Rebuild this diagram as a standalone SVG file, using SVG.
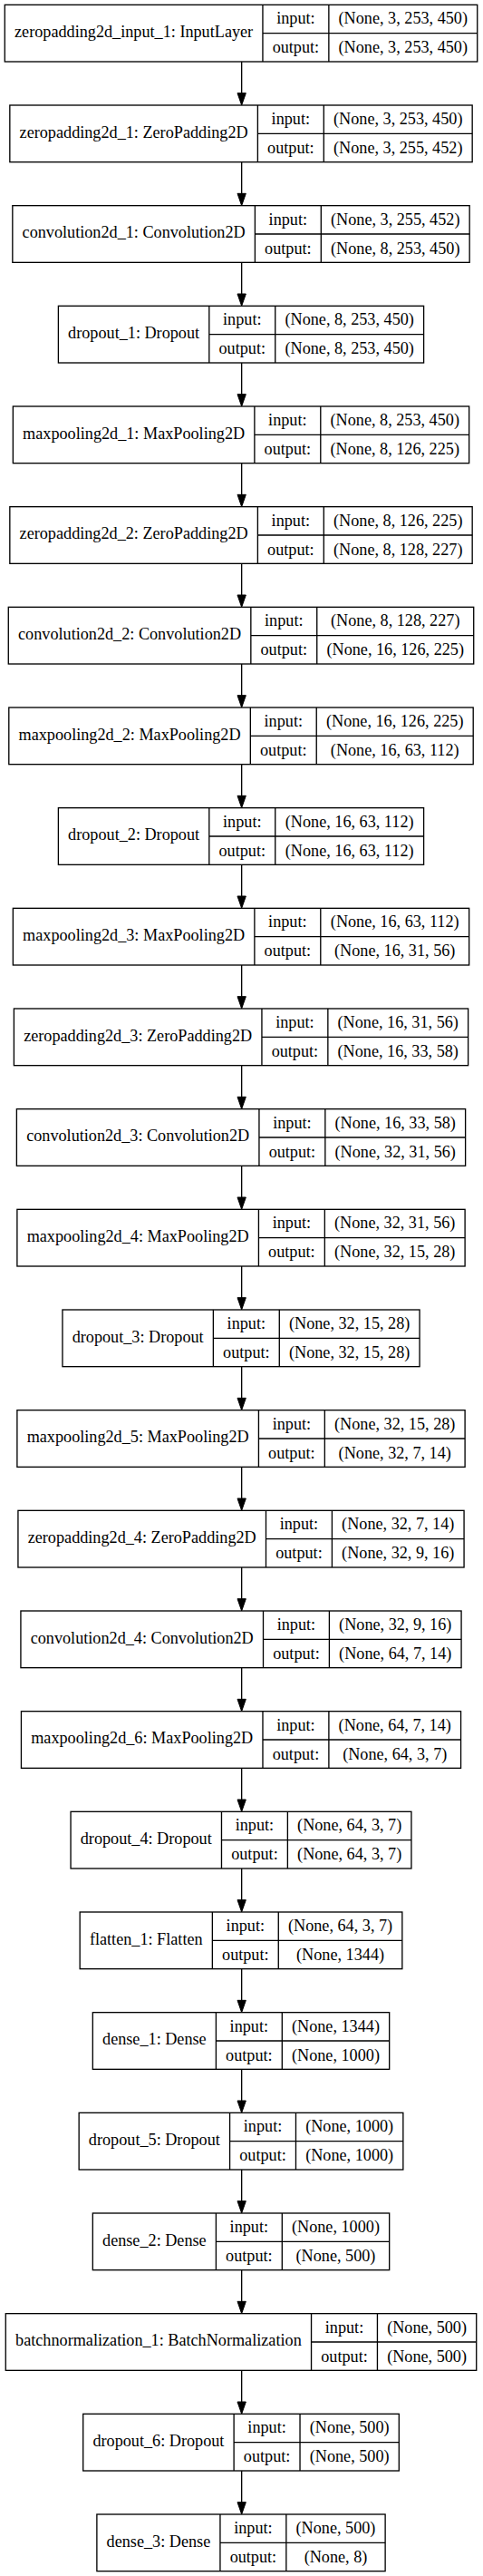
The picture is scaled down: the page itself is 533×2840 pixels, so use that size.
<svg xmlns="http://www.w3.org/2000/svg" width="533" height="2840" viewBox="0 0 533 2840">
<style>
.box{fill:#fff;stroke:#000;stroke-width:1.33}
.dv{fill:none;stroke:#000;stroke-width:1.33}
.e{fill:none;stroke:#000;stroke-width:1.33;marker-end:url(#ah)}
text{font-family:"Liberation Serif","Times New Roman",serif;font-size:18.2px;text-anchor:middle;fill:#000}
</style>
<defs>
<marker id="ah" markerUnits="userSpaceOnUse" markerWidth="14" markerHeight="10" refX="11.33" refY="4.67" orient="auto" overflow="visible">
<path d="M0,0 L13.33,4.67 L0,9.33 Z" fill="#000" stroke="#000" stroke-width="1"/>
</marker>
</defs>
<rect x="0" y="0" width="533" height="2840" fill="#fff"/>
<g id="connectors">
<path class="e" d="M266.67,68V114"/>
<path class="e" d="M266.67,178.67V224.67"/>
<path class="e" d="M266.67,289.33V335.33"/>
<path class="e" d="M266.67,400V446"/>
<path class="e" d="M266.67,510.67V556.67"/>
<path class="e" d="M266.67,621.33V667.33"/>
<path class="e" d="M266.67,732V778"/>
<path class="e" d="M266.67,842.67V888.67"/>
<path class="e" d="M266.67,953.33V999.33"/>
<path class="e" d="M266.67,1064V1110"/>
<path class="e" d="M266.67,1174.67V1220.67"/>
<path class="e" d="M266.67,1285.33V1331.33"/>
<path class="e" d="M266.67,1396V1442"/>
<path class="e" d="M266.67,1506.67V1552.67"/>
<path class="e" d="M266.67,1617.33V1663.33"/>
<path class="e" d="M266.67,1728V1774"/>
<path class="e" d="M266.67,1838.67V1884.67"/>
<path class="e" d="M266.67,1949.33V1995.33"/>
<path class="e" d="M266.67,2060V2106"/>
<path class="e" d="M266.67,2170.67V2216.67"/>
<path class="e" d="M266.67,2281.33V2327.33"/>
<path class="e" d="M266.67,2392V2438"/>
<path class="e" d="M266.67,2502.67V2548.67"/>
<path class="e" d="M266.67,2613.33V2659.33"/>
<path class="e" d="M266.67,2724V2770"/>
</g>
<g id="n1" transform="translate(0,5.33)">
<rect class="box" x="5.27" y="0" width="521.46" height="62.67"/>
<path class="dv" d="M289.95,0V62.67M362.86,0V62.67M289.95,31.33H526.73"/>
<text x="147.61" y="35.5">zeropadding2d_input_1: InputLayer</text>
<text x="326.41" y="21">input:</text><text x="326.41" y="53">output:</text>
<text x="444.80" y="21">(None, 3, 253, 450)</text><text x="444.80" y="53">(None, 3, 253, 450)</text>
</g>
<g id="n2" transform="translate(0,116)">
<rect class="box" x="10.83" y="0" width="510.34" height="62.67"/>
<path class="dv" d="M284.39,0V62.67M357.30,0V62.67M284.39,31.33H521.17"/>
<text x="147.61" y="35.5">zeropadding2d_1: ZeroPadding2D</text>
<text x="320.85" y="21">input:</text><text x="320.85" y="53">output:</text>
<text x="439.24" y="21">(None, 3, 253, 450)</text><text x="439.24" y="53">(None, 3, 255, 452)</text>
</g>
<g id="n3" transform="translate(0,226.67)">
<rect class="box" x="13.83" y="0" width="504.34" height="62.67"/>
<path class="dv" d="M281.39,0V62.67M354.30,0V62.67M281.39,31.33H518.17"/>
<text x="147.61" y="35.5">convolution2d_1: Convolution2D</text>
<text x="317.85" y="21">input:</text><text x="317.85" y="53">output:</text>
<text x="436.24" y="21">(None, 3, 255, 452)</text><text x="436.24" y="53">(None, 8, 253, 450)</text>
</g>
<g id="n4" transform="translate(0,337.33)">
<rect class="box" x="64.40" y="0" width="403.20" height="62.67"/>
<path class="dv" d="M230.82,0V62.67M303.73,0V62.67M230.82,31.33H467.60"/>
<text x="147.61" y="35.5">dropout_1: Dropout</text>
<text x="267.28" y="21">input:</text><text x="267.28" y="53">output:</text>
<text x="385.67" y="21">(None, 8, 253, 450)</text><text x="385.67" y="53">(None, 8, 253, 450)</text>
</g>
<g id="n5" transform="translate(0,448)">
<rect class="box" x="14.34" y="0" width="503.32" height="62.67"/>
<path class="dv" d="M280.88,0V62.67M353.79,0V62.67M280.88,31.33H517.66"/>
<text x="147.61" y="35.5">maxpooling2d_1: MaxPooling2D</text>
<text x="317.34" y="21">input:</text><text x="317.34" y="53">output:</text>
<text x="435.73" y="21">(None, 8, 253, 450)</text><text x="435.73" y="53">(None, 8, 126, 225)</text>
</g>
<g id="n6" transform="translate(0,558.67)">
<rect class="box" x="10.83" y="0" width="510.34" height="62.67"/>
<path class="dv" d="M284.39,0V62.67M357.30,0V62.67M284.39,31.33H521.17"/>
<text x="147.61" y="35.5">zeropadding2d_2: ZeroPadding2D</text>
<text x="320.85" y="21">input:</text><text x="320.85" y="53">output:</text>
<text x="439.24" y="21">(None, 8, 126, 225)</text><text x="439.24" y="53">(None, 8, 128, 227)</text>
</g>
<g id="n7" transform="translate(0,669.33)">
<rect class="box" x="9.28" y="0" width="513.44" height="62.67"/>
<path class="dv" d="M276.84,0V62.67M349.75,0V62.67M276.84,31.33H522.72"/>
<text x="143.06" y="35.5">convolution2d_2: Convolution2D</text>
<text x="313.30" y="21">input:</text><text x="313.30" y="53">output:</text>
<text x="436.24" y="21">(None, 8, 128, 227)</text><text x="436.24" y="53">(None, 16, 126, 225)</text>
</g>
<g id="n8" transform="translate(0,780)">
<rect class="box" x="9.79" y="0" width="512.42" height="62.67"/>
<path class="dv" d="M276.33,0V62.67M349.24,0V62.67M276.33,31.33H522.21"/>
<text x="143.06" y="35.5">maxpooling2d_2: MaxPooling2D</text>
<text x="312.79" y="21">input:</text><text x="312.79" y="53">output:</text>
<text x="435.73" y="21">(None, 16, 126, 225)</text><text x="435.73" y="53">(None, 16, 63, 112)</text>
</g>
<g id="n9" transform="translate(0,890.67)">
<rect class="box" x="64.40" y="0" width="403.20" height="62.67"/>
<path class="dv" d="M230.82,0V62.67M303.73,0V62.67M230.82,31.33H467.60"/>
<text x="147.61" y="35.5">dropout_2: Dropout</text>
<text x="267.28" y="21">input:</text><text x="267.28" y="53">output:</text>
<text x="385.67" y="21">(None, 16, 63, 112)</text><text x="385.67" y="53">(None, 16, 63, 112)</text>
</g>
<g id="n10" transform="translate(0,1001.33)">
<rect class="box" x="14.34" y="0" width="503.32" height="62.67"/>
<path class="dv" d="M280.88,0V62.67M353.79,0V62.67M280.88,31.33H517.66"/>
<text x="147.61" y="35.5">maxpooling2d_3: MaxPooling2D</text>
<text x="317.34" y="21">input:</text><text x="317.34" y="53">output:</text>
<text x="435.73" y="21">(None, 16, 63, 112)</text><text x="435.73" y="53">(None, 16, 31, 56)</text>
</g>
<g id="n11" transform="translate(0,1112)">
<rect class="box" x="15.38" y="0" width="501.24" height="62.67"/>
<path class="dv" d="M288.94,0V62.67M361.85,0V62.67M288.94,31.33H516.62"/>
<text x="152.16" y="35.5">zeropadding2d_3: ZeroPadding2D</text>
<text x="325.40" y="21">input:</text><text x="325.40" y="53">output:</text>
<text x="439.24" y="21">(None, 16, 31, 56)</text><text x="439.24" y="53">(None, 16, 33, 58)</text>
</g>
<g id="n12" transform="translate(0,1222.67)">
<rect class="box" x="18.38" y="0" width="495.24" height="62.67"/>
<path class="dv" d="M285.94,0V62.67M358.85,0V62.67M285.94,31.33H513.62"/>
<text x="152.16" y="35.5">convolution2d_3: Convolution2D</text>
<text x="322.40" y="21">input:</text><text x="322.40" y="53">output:</text>
<text x="436.24" y="21">(None, 16, 33, 58)</text><text x="436.24" y="53">(None, 32, 31, 56)</text>
</g>
<g id="n13" transform="translate(0,1333.33)">
<rect class="box" x="18.89" y="0" width="494.22" height="62.67"/>
<path class="dv" d="M285.43,0V62.67M358.34,0V62.67M285.43,31.33H513.11"/>
<text x="152.16" y="35.5">maxpooling2d_4: MaxPooling2D</text>
<text x="321.89" y="21">input:</text><text x="321.89" y="53">output:</text>
<text x="435.73" y="21">(None, 32, 31, 56)</text><text x="435.73" y="53">(None, 32, 15, 28)</text>
</g>
<g id="n14" transform="translate(0,1444)">
<rect class="box" x="68.95" y="0" width="394.10" height="62.67"/>
<path class="dv" d="M235.37,0V62.67M308.28,0V62.67M235.37,31.33H463.05"/>
<text x="152.16" y="35.5">dropout_3: Dropout</text>
<text x="271.83" y="21">input:</text><text x="271.83" y="53">output:</text>
<text x="385.67" y="21">(None, 32, 15, 28)</text><text x="385.67" y="53">(None, 32, 15, 28)</text>
</g>
<g id="n15" transform="translate(0,1554.67)">
<rect class="box" x="18.89" y="0" width="494.22" height="62.67"/>
<path class="dv" d="M285.43,0V62.67M358.34,0V62.67M285.43,31.33H513.11"/>
<text x="152.16" y="35.5">maxpooling2d_5: MaxPooling2D</text>
<text x="321.89" y="21">input:</text><text x="321.89" y="53">output:</text>
<text x="435.73" y="21">(None, 32, 15, 28)</text><text x="435.73" y="53">(None, 32, 7, 14)</text>
</g>
<g id="n16" transform="translate(0,1665.33)">
<rect class="box" x="19.93" y="0" width="492.14" height="62.67"/>
<path class="dv" d="M293.49,0V62.67M366.40,0V62.67M293.49,31.33H512.07"/>
<text x="156.71" y="35.5">zeropadding2d_4: ZeroPadding2D</text>
<text x="329.95" y="21">input:</text><text x="329.95" y="53">output:</text>
<text x="439.24" y="21">(None, 32, 7, 14)</text><text x="439.24" y="53">(None, 32, 9, 16)</text>
</g>
<g id="n17" transform="translate(0,1776)">
<rect class="box" x="22.93" y="0" width="486.14" height="62.67"/>
<path class="dv" d="M290.49,0V62.67M363.40,0V62.67M290.49,31.33H509.07"/>
<text x="156.71" y="35.5">convolution2d_4: Convolution2D</text>
<text x="326.95" y="21">input:</text><text x="326.95" y="53">output:</text>
<text x="436.24" y="21">(None, 32, 9, 16)</text><text x="436.24" y="53">(None, 64, 7, 14)</text>
</g>
<g id="n18" transform="translate(0,1886.67)">
<rect class="box" x="23.44" y="0" width="485.12" height="62.67"/>
<path class="dv" d="M289.98,0V62.67M362.89,0V62.67M289.98,31.33H508.56"/>
<text x="156.71" y="35.5">maxpooling2d_6: MaxPooling2D</text>
<text x="326.44" y="21">input:</text><text x="326.44" y="53">output:</text>
<text x="435.73" y="21">(None, 64, 7, 14)</text><text x="435.73" y="53">(None, 64, 3, 7)</text>
</g>
<g id="n19" transform="translate(0,1997.33)">
<rect class="box" x="78.05" y="0" width="375.90" height="62.67"/>
<path class="dv" d="M244.47,0V62.67M317.38,0V62.67M244.47,31.33H453.95"/>
<text x="161.26" y="35.5">dropout_4: Dropout</text>
<text x="280.93" y="21">input:</text><text x="280.93" y="53">output:</text>
<text x="385.67" y="21">(None, 64, 3, 7)</text><text x="385.67" y="53">(None, 64, 3, 7)</text>
</g>
<g id="n20" transform="translate(0,2108)">
<rect class="box" x="88.16" y="0" width="355.68" height="62.67"/>
<path class="dv" d="M234.36,0V62.67M307.27,0V62.67M234.36,31.33H443.84"/>
<text x="161.26" y="35.5">flatten_1: Flatten</text>
<text x="270.82" y="21">input:</text><text x="270.82" y="53">output:</text>
<text x="375.56" y="21">(None, 64, 3, 7)</text><text x="375.56" y="53">(None, 1344)</text>
</g>
<g id="n21" transform="translate(0,2218.67)">
<rect class="box" x="102.33" y="0" width="327.34" height="62.67"/>
<path class="dv" d="M238.39,0V62.67M311.30,0V62.67M238.39,31.33H429.67"/>
<text x="170.36" y="35.5">dense_1: Dense</text>
<text x="274.85" y="21">input:</text><text x="274.85" y="53">output:</text>
<text x="370.49" y="21">(None, 1344)</text><text x="370.49" y="53">(None, 1000)</text>
</g>
<g id="n22" transform="translate(0,2329.33)">
<rect class="box" x="87.15" y="0" width="357.70" height="62.67"/>
<path class="dv" d="M253.57,0V62.67M326.48,0V62.67M253.57,31.33H444.85"/>
<text x="170.36" y="35.5">dropout_5: Dropout</text>
<text x="290.03" y="21">input:</text><text x="290.03" y="53">output:</text>
<text x="385.67" y="21">(None, 1000)</text><text x="385.67" y="53">(None, 1000)</text>
</g>
<g id="n23" transform="translate(0,2440)">
<rect class="box" x="102.33" y="0" width="327.34" height="62.67"/>
<path class="dv" d="M238.39,0V62.67M311.30,0V62.67M238.39,31.33H429.67"/>
<text x="170.36" y="35.5">dense_2: Dense</text>
<text x="274.85" y="21">input:</text><text x="274.85" y="53">output:</text>
<text x="370.49" y="21">(None, 1000)</text><text x="370.49" y="53">(None, 500)</text>
</g>
<g id="n24" transform="translate(0,2550.67)">
<rect class="box" x="6.28" y="0" width="519.44" height="62.67"/>
<path class="dv" d="M343.54,0V62.67M416.45,0V62.67M343.54,31.33H525.72"/>
<text x="174.91" y="35.5">batchnormalization_1: BatchNormalization</text>
<text x="380.00" y="21">input:</text><text x="380.00" y="53">output:</text>
<text x="471.09" y="21">(None, 500)</text><text x="471.09" y="53">(None, 500)</text>
</g>
<g id="n25" transform="translate(0,2661.33)">
<rect class="box" x="91.70" y="0" width="348.60" height="62.67"/>
<path class="dv" d="M258.12,0V62.67M331.03,0V62.67M258.12,31.33H440.30"/>
<text x="174.91" y="35.5">dropout_6: Dropout</text>
<text x="294.58" y="21">input:</text><text x="294.58" y="53">output:</text>
<text x="385.67" y="21">(None, 500)</text><text x="385.67" y="53">(None, 500)</text>
</g>
<g id="n26" transform="translate(0,2772)">
<rect class="box" x="106.88" y="0" width="318.24" height="62.67"/>
<path class="dv" d="M242.94,0V62.67M315.85,0V62.67M242.94,31.33H425.12"/>
<text x="174.91" y="35.5">dense_3: Dense</text>
<text x="279.40" y="21">input:</text><text x="279.40" y="53">output:</text>
<text x="370.49" y="21">(None, 500)</text><text x="370.49" y="53">(None, 8)</text>
</g>
</svg>
